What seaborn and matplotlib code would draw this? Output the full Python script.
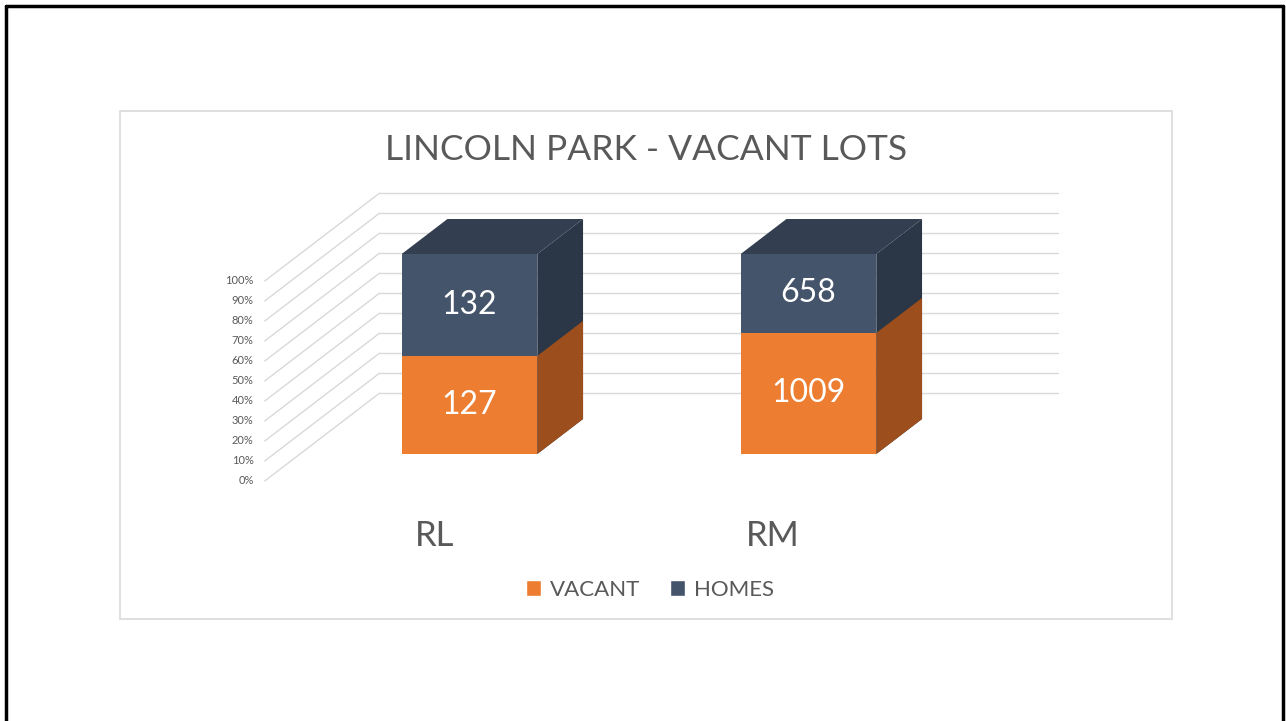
import matplotlib
matplotlib.use("Agg")
import matplotlib.pyplot as plt
import numpy as np
import pandas as pd
import seaborn as sns
from matplotlib.patches import Polygon, Patch, Rectangle
from matplotlib.lines import Line2D

# data
zones = ["RL", "RM"]
vacant = [127, 1009]
homes = [132, 658]
series = ["VACANT", "HOMES"]
pct_ticks = np.arange(0, 1.01, 0.1)
pct_labels = ["{:.0f}%".format(t * 100) for t in pct_ticks]

orange = "#ED7D31"
orange_side = "#9C4F1D"
navy = "#44546A"
navy_side = "#2B3646"
navy_top = "#333F50"
grey_txt = "#595959"
grid_col = "#D9D9D9"

df = pd.DataFrame({"zone": zones, "vacant": vacant, "homes": homes})
df["total"] = df.vacant + df.homes
df["vac_frac"] = df.vacant / df.total
df["full"] = 1.0

sns.set_style("white")
plt.rcParams["font.family"] = ["Lato", "DejaVu Sans"]

fig = plt.figure(figsize=(12.86, 7.21), dpi=100)
W, H = 1286, 721
# front plane of the bars
ax = fig.add_axes([300 / W, (H - 454) / H, 678 / W, 200 / H])

sns.barplot(data=df, x="zone", y="full", color=navy, width=0.40, saturation=1, ax=ax,
            zorder=3, linewidth=0, edgecolor="none")
sns.barplot(data=df, x="zone", y="vac_frac", color=orange, width=0.40, saturation=1, ax=ax,
            zorder=3, linewidth=0, edgecolor="none")
ax.set_xlim(-0.5, 1.5)
ax.set_ylim(0, 1)
ax.axis("off")

SLOPE = 1.307  # horizontal px per vertical px of depth
BAR_D = 35     # bar depth (px up)
BACK_D = 61    # back wall behind bar front
FRONT_D = -27  # front edge of floor


def depth(x, y, d):
    px, py = ax.transData.transform((x, y))
    return ax.transData.inverted().transform((px + d * SLOPE, py + d))


# back wall gridlines + floor/side diagonals
x0, x1 = ax.get_xlim()
for t in pct_ticks:
    a = depth(x0, t, BACK_D)
    b = depth(x1, t, BACK_D)
    c = depth(x0, t, FRONT_D)
    ax.add_line(Line2D([a[0], b[0]], [a[1], b[1]], color=grid_col, lw=1, zorder=1, clip_on=False))
    ax.add_line(Line2D([c[0], a[0]], [c[1], a[1]], color=grid_col, lw=1, zorder=1, clip_on=False))

for t, lab in zip(pct_ticks, pct_labels):
    c = depth(x0, t, FRONT_D)
    ax.annotate(lab, c, xytext=(-11, 0), textcoords="offset pixels", ha="right", va="center",
                fontsize=8, color=grey_txt, annotation_clip=False)

# 3d side and top faces
n = len(zones)
for k, p in enumerate(ax.patches):
    xl, yb = p.get_x(), p.get_y()
    xr, yt = xl + p.get_width(), yb + p.get_height()
    is_top = k < n
    side = [(xr, yb), (xr, yt), tuple(depth(xr, yt, BAR_D)), tuple(depth(xr, yb, BAR_D))]
    ax.add_patch(Polygon(side, closed=True, facecolor=navy_side if is_top else orange_side,
                         edgecolor="none", zorder=2.5 if is_top else 2.6, clip_on=False))
    if is_top:
        top = [(xl, yt), (xr, yt), tuple(depth(xr, yt, BAR_D)), tuple(depth(xl, yt, BAR_D))]
        ax.add_patch(Polygon(top, closed=True, facecolor=navy_top, edgecolor="none",
                             zorder=2.5, clip_on=False))

# value labels
for i, row in df.iterrows():
    ax.text(i, row.vac_frac / 2, str(row.vacant), ha="center", va="center",
            color="white", fontsize=23, zorder=5)
    ax.text(i, (1 + row.vac_frac) / 2, str(row.homes), ha="center", va="center",
            color="white", fontsize=23, zorder=5)

# category labels on the floor front
for i, z in enumerate(zones):
    c = depth(i, 0, FRONT_D)
    ax.annotate(z, c, xytext=(0, -55), textcoords="offset pixels", ha="center", va="center",
                fontsize=25, color=grey_txt, annotation_clip=False)

fig.text(646 / W, 1 - 150 / H, "LINCOLN PARK - VACANT LOTS", ha="center", va="center",
         fontsize=25.5, color=grey_txt)

handles = [Patch(facecolor=orange), Patch(facecolor=navy)]
fig.legend(handles, series, loc="center", bbox_to_anchor=(650 / W, 1 - 590 / H), ncol=2,
           frameon=False, fontsize=16, handlelength=0.7, handleheight=0.7,
           handletextpad=0.4, columnspacing=1.3, labelcolor=grey_txt)

# chart frame and slide border
fig.add_artist(Rectangle((120 / W, 1 - 619 / H), 1052 / W, 508 / H, transform=fig.transFigure,
                         facecolor="none", edgecolor=grid_col, lw=1.2))
for xs, ys in [([6, 6], [6, 721]), ([6, 1283], [6, 6]), ([1283, 1283], [6, 721])]:
    fig.add_artist(Line2D([x / W for x in xs], [1 - y / H for y in ys], transform=fig.transFigure,
                          color="black", lw=2.5))

fig.savefig("out.png", dpi=100)
